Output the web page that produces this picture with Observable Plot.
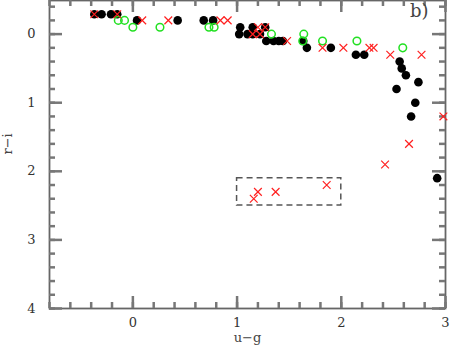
<!DOCTYPE html>
<html><head><meta charset="utf-8">
<script src="https://cdn.jsdelivr.net/npm/d3@7"></script>
<script src="https://cdn.jsdelivr.net/npm/@observablehq/plot@0.6"></script>
<style>body{margin:0;background:#fff}</style>
</head><body><div id="chart"></div>
<script>
const blackX = [-0.37,-0.30,-0.21,-0.15,0.04,0.43,0.68,0.77,1.03,1.15,1.27,1.02,1.10,1.15,1.22,1.28,1.35,1.40,1.44,1.635,1.67,1.90,2.14,2.22,2.56,2.58,2.62,2.74,2.53,2.71,2.67,2.92];
const blackY = [-0.29,-0.29,-0.29,-0.29,-0.2,-0.2,-0.2,-0.2,-0.1,-0.1,-0.1,0,0,0,0,0.1,0.1,0.1,0.1,0.1,0.2,0.2,0.3,0.3,0.4,0.5,0.6,0.7,0.8,1.0,1.2,2.1];
const greenX = [-0.14,-0.08,0.0,0.26,0.73,0.78,1.33,1.64,1.63,1.82,2.15,2.59];
const greenY = [-0.2,-0.2,-0.1,-0.1,-0.1,-0.1,0,0,0.1,0.1,0.1,0.2];
const redX = [-0.37,-0.15,0.09,0.34,0.84,0.91,1.20,1.27,1.15,1.22,1.48,1.82,2.02,2.27,2.31,2.47,2.77,2.98,2.65,2.42,1.86,1.37,1.20,1.16];
const redY = [-0.29,-0.29,-0.2,-0.2,-0.2,-0.2,-0.1,-0.1,0,0,0.1,0.2,0.2,0.2,0.2,0.3,0.3,1.2,1.6,1.9,2.2,2.3,2.3,2.4];
const boxX = [1.0, 2.0];
const boxY = [2.1, 2.5];
const xMajor = [0,1,2,3];
const yMajor = [0,1,2,3,4];
const xMinor = d3.range(-8, 31, 2).map(v => v/10);
const yMinor = d3.range(-4, 41, 2).map(v => v/10);

const black = blackX.map((x,i)=>({x, y: blackY[i]}));
const green = greenX.map((x,i)=>({x, y: greenY[i]}));
const red = redX.map((x,i)=>({x, y: redY[i]}));

const W = 450, H = 346, mL = 49, mR = 5, mT = 0, mB = 38;
const pw = W - mL - mR, ph = H - mT - mB;
const font = "'DejaVu Serif', serif";
const axisCol = "#777";
function xt(vals, len) {
  return [Plot.ruleX(vals, {x: d => d, insetTop: ph - len, stroke: axisCol, strokeWidth: 2.5}),
          Plot.ruleX(vals, {x: d => d, insetBottom: ph - len, stroke: axisCol, strokeWidth: 2.5})];
}
function yt(vals, len) {
  return [Plot.ruleY(vals, {y: d => d, insetRight: pw - len, stroke: axisCol, strokeWidth: 2.5}),
          Plot.ruleY(vals, {y: d => d, insetLeft: pw - len, stroke: axisCol, strokeWidth: 2.5})];
}
const chart = Plot.plot({
  width: W, height: H,
  marginLeft: mL, marginRight: mR, marginTop: mT, marginBottom: mB,
  style: {fontFamily: font, fontSize: "13px", color: "#333", background: "#fff"},
  x: {domain: [-0.8, 3], label: null},
  y: {domain: [-0.49, 4], reverse: true, label: null},
  marks: [
    Plot.frame({stroke: "#666", strokeWidth: 1.8}),
    ...xt(xMinor, 6), ...xt(xMajor, 12),
    ...yt(yMinor, 6), ...yt(yMajor, 13),
    Plot.axisX(xMajor, {anchor: "bottom", tickSize: 0, tickPadding: 9, tickFormat: d => String(d), fill: "#333", fontSize: 13, label: null}),
    Plot.axisY(yMajor, {anchor: "left", tickSize: 0, tickPadding: 14, tickFormat: d => String(d), fill: "#333", fontSize: 13, label: null}),
    Plot.rect([{x1: boxX[0], x2: boxX[1], y1: boxY[0], y2: boxY[1]}], {x1: "x1", x2: "x2", y1: "y1", y2: "y2", fill: "none", stroke: "#555", strokeWidth: 1.5, strokeDasharray: "6,4"}),
    Plot.dot(black, {x: "x", y: "y", r: 4.3, fill: "#000", stroke: "none"}),
    Plot.dot(green, {x: "x", y: "y", r: 3.8, fill: "none", stroke: "#22e022", strokeWidth: 1.5}),
    Plot.dot(red, {x: "x", y: "y", r: 3.6, symbol: "times", stroke: "#ff2020", strokeWidth: 1.2}),
    Plot.text(["b)"], {frameAnchor: "top-right", dx: -17, dy: 4, fontSize: 18, fill: "#444", textAnchor: "end", lineAnchor: "top"}),
    Plot.text(["u\u2212g"], {frameAnchor: "bottom", dy: 29, fontSize: 13, fill: "#444", lineAnchor: "middle"}),
    Plot.text(["r\u2212i"], {frameAnchor: "left", dx: -42, rotate: -90, fontSize: 13, fill: "#444", lineAnchor: "middle"})
  ]
});
document.getElementById("chart").appendChild(chart);
</script>
</body></html>
